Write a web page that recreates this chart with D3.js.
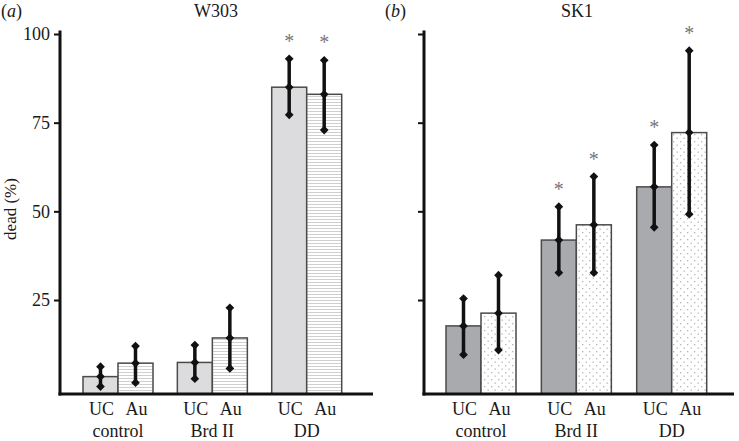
<!DOCTYPE html>
<html>
<head>
<meta charset="utf-8">
<script src="https://cdn.jsdelivr.net/npm/d3@7"></script>
<style>
  html, body { margin: 0; padding: 0; background: #fff; }
  svg { display: block; }
  svg text { font-family: "Liberation Serif", "Times New Roman", serif !important; fill: #1a1a1a; }
</style>
</head>
<body>
<script>
// ---- data ----
const groups = ["control", "Brd II", "DD"];
const series = ["UC", "Au"];
const yTicks = [25, 50, 75, 100];

const w303UC     = [3.4, 7.4, 85.0];
const w303UCLow  = [0.6, 2.8, 77.2];
const w303UCHigh = [6.2, 12.3, 93.0];
const w303Au     = [7.2, 14.3, 83.0];
const w303AuLow  = [1.7, 5.7, 72.9];
const w303AuHigh = [12.0, 22.8, 92.6];
const w303UCSig  = [false, false, true];
const w303AuSig  = [false, false, true];

const sk1UC     = [17.7, 41.9, 56.9];
const sk1UCLow  = [9.6, 32.7, 45.5];
const sk1UCHigh = [25.4, 51.3, 68.7];
const sk1Au     = [21.3, 46.2, 72.2];
const sk1AuLow  = [10.9, 32.7, 49.2];
const sk1AuHigh = [32.0, 59.8, 95.3];
const sk1UCSig  = [false, true, true];
const sk1AuSig  = [false, true, true];

// ---- layout ----
const W = 739, H = 441;
const FONT = "'Liberation Serif', 'Times New Roman', serif";
const svg = d3.select("body").append("svg").attr("width", W).attr("height", H)
  .attr("font-family", FONT);

const defs = svg.append("defs");
// horizontal stripes
const stripe = defs.append("pattern").attr("id", "stripes")
  .attr("patternUnits", "userSpaceOnUse").attr("width", 6).attr("height", 3);
stripe.append("rect").attr("width", 6).attr("height", 3).attr("fill", "#fff");
stripe.append("rect").attr("y", 0).attr("width", 6).attr("height", 1).attr("fill", "#cfcfd1");
// dots
const dots = defs.append("pattern").attr("id", "dots")
  .attr("patternUnits", "userSpaceOnUse").attr("width", 7).attr("height", 7);
dots.append("rect").attr("width", 7).attr("height", 7).attr("fill", "#fff");
dots.append("rect").attr("x", 1).attr("y", 1).attr("width", 1.3).attr("height", 1.3).attr("fill", "#b4b4b6");
dots.append("rect").attr("x", 4.5).attr("y", 4.5).attr("width", 1.3).attr("height", 1.3).attr("fill", "#b4b4b6");

const axisMin = -1.5;
const y = d3.scaleLinear().domain([axisMin, 100]).range([394, 34]);

const panels = [
  {
    label: "a", title: "W303", titleX: 216, labelX: 1,
    axisX: 60, baseEnd: 373, xRange: [118, 306.7], showLabels: true,
    ucFill: "#dcdcde", auFill: "url(#stripes)",
    data: {
      UC: { mean: w303UC, low: w303UCLow, high: w303UCHigh, sig: w303UCSig },
      Au: { mean: w303Au, low: w303AuLow, high: w303AuHigh, sig: w303AuSig }
    }
  },
  {
    label: "b", title: "SK1", titleX: 577, labelX: 385,
    axisX: 424, baseEnd: 734, xRange: [481, 671.7], showLabels: false,
    ucFill: "#a9aaad", auFill: "url(#dots)",
    data: {
      UC: { mean: sk1UC, low: sk1UCLow, high: sk1UCHigh, sig: sk1UCSig },
      Au: { mean: sk1Au, low: sk1AuLow, high: sk1AuHigh, sig: sk1AuSig }
    }
  }
];

const barW = 35;
const inner = d3.scaleBand().domain(series).range([-barW, barW]).padding(0);

panels.forEach(p => {
  const g = svg.append("g");
  const x = d3.scalePoint().domain(groups).range(p.xRange);

  // panel label and title
  const lab = g.append("text").attr("x", p.labelX).attr("y", 17)
    .style("font-family", FONT).style("font-size", "18px");
  lab.append("tspan").text("(");
  lab.append("tspan").style("font-style", "italic").text(p.label);
  lab.append("tspan").text(")");
  g.append("text").attr("x", p.titleX).attr("y", 17).attr("text-anchor", "middle")
    .style("font-family", FONT).style("font-size", "18px").text(p.title);

  // bars
  const recs = [];
  groups.forEach((grp, i) => {
    series.forEach(s => {
      const d = p.data[s];
      recs.push({ grp, s, mean: d.mean[i], low: d.low[i], high: d.high[i], sig: d.sig[i] });
    });
  });

  g.selectAll("rect.bar").data(recs).join("rect").attr("class", "bar")
    .attr("x", d => x(d.grp) + inner(d.s))
    .attr("width", inner.bandwidth())
    .attr("y", d => y(d.mean))
    .attr("height", d => y(axisMin) - y(d.mean))
    .attr("fill", d => d.s === "UC" ? p.ucFill : p.auFill)
    .attr("stroke", "#4a4a4a").attr("stroke-width", 1.5);

  // error bars
  const cx = d => x(d.grp) + inner(d.s) + inner.bandwidth() / 2;
  g.selectAll("line.err").data(recs).join("line").attr("class", "err")
    .attr("x1", cx).attr("x2", cx)
    .attr("y1", d => y(d.low)).attr("y2", d => y(d.high))
    .attr("stroke", "#111").attr("stroke-width", 3.5);
  const diamond = d3.symbol(d3.symbolSquare, 38)();
  const pts = [];
  recs.forEach(d => ["low", "mean", "high"].forEach(k => pts.push({ x: cx(d), v: d[k] })));
  g.selectAll("path.dia").data(pts).join("path").attr("class", "dia")
    .attr("d", diamond)
    .attr("transform", d => `translate(${d.x},${y(d.v)}) rotate(45)`)
    .attr("fill", "#111");

  // significance asterisks
  g.selectAll("text.sig").data(recs.filter(d => d.sig)).join("text").attr("class", "sig")
    .attr("x", cx).attr("y", d => y(d.high) - 11)
    .attr("text-anchor", "middle")
    .style("font-family", FONT).style("font-size", "20px").style("fill", "#777")
    .text("*");

  // y axis
  const axis = d3.axisLeft(y).tickValues(yTicks).tickSize(6).tickPadding(4)
    .tickFormat(p.showLabels ? d3.format("d") : () => "");
  const ag = g.append("g").attr("transform", `translate(${p.axisX},0)`).call(axis)
    .attr("font-family", FONT);
  ag.select(".domain").remove();
  ag.selectAll(".tick line").attr("stroke", "#111").attr("stroke-width", 2);
  ag.selectAll(".tick text").style("font-size", "18px")
    .style("font-family", FONT).attr("fill", "#1a1a1a");
  g.append("line").attr("x1", p.axisX).attr("x2", p.axisX)
    .attr("y1", y(101)).attr("y2", y(axisMin) + 1.5)
    .attr("stroke", "#111").attr("stroke-width", 3);
  // baseline
  g.append("line").attr("x1", p.axisX - 1.5).attr("x2", p.baseEnd)
    .attr("y1", y(axisMin)).attr("y2", y(axisMin))
    .attr("stroke", "#111").attr("stroke-width", 3);

  // x labels
  groups.forEach(grp => {
    series.forEach(s => {
      g.append("text").attr("x", x(grp) + inner(s) + inner.bandwidth() / 2 + 1)
        .attr("y", 415).attr("text-anchor", "middle")
        .style("font-family", FONT).style("font-size", "18px").text(s);
    });
    g.append("text").attr("x", x(grp)).attr("y", 437).attr("text-anchor", "middle")
      .style("font-family", FONT).style("font-size", "18px").text(grp);
  });
});

// y axis title
svg.append("text").attr("transform", "translate(15.5,209) rotate(-90)")
  .attr("text-anchor", "middle").style("font-family", FONT).style("font-size", "17px").text("dead (%)");
</script>
</body>
</html>
